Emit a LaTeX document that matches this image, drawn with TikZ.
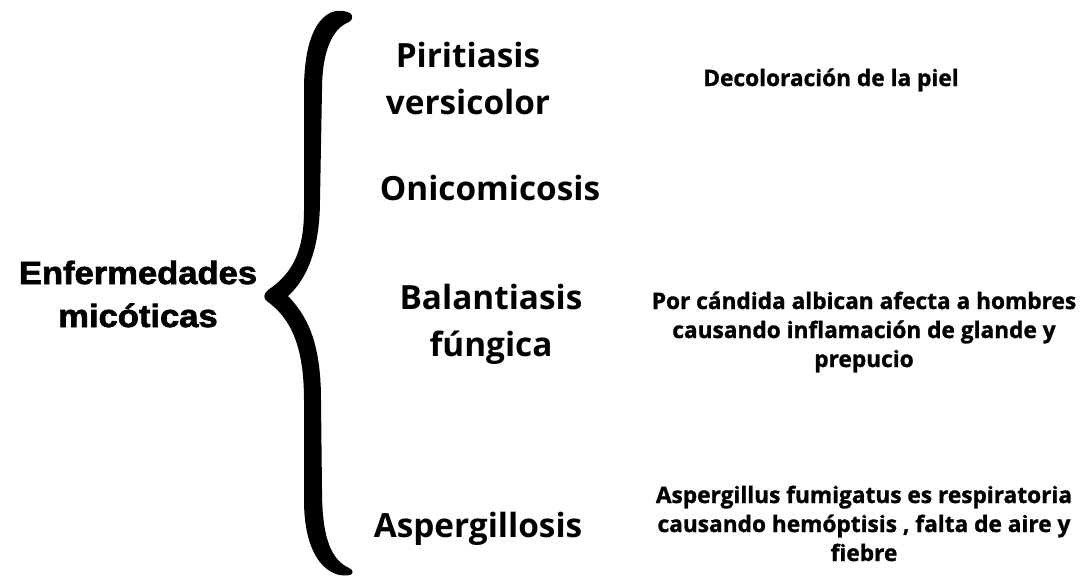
\documentclass[tikz,border=0pt]{standalone}
\usepackage{fontspec}
\setmainfont{Open Sans}
\newfontfamily\headfont[FakeStretch=1.08,FakeBold=2.2]{Liberation Sans}
\newfontfamily\descfont[FakeBold=1.2]{Open Sans}
\begin{document}
\begin{tikzpicture}[x=0.75pt,y=-0.75pt,
  headtxt/.style={anchor=base,align=center,inner sep=0pt,font=\headfont\bfseries\fontsize{24}{32.25}\selectfont},
  itemtxt/.style={anchor=base,align=center,inner sep=0pt,font=\bfseries\fontsize{25}{35.25}\selectfont},
  desctxt/.style={anchor=base,align=center,inner sep=0pt,font=\descfont\bfseries\fontsize{17}{21.75}\selectfont}]
\path[use as bounding box,fill=white] (0,0) rectangle (1081,578);
% brace
\fill[black] (350,13) .. controls (330,4) and (304,20) .. (304,90)
  -- (304,210) .. controls (304,255) and (290,275) .. (268,290)
  .. controls (263,294) and (263,299) .. (268,302)
  .. controls (290,318) and (304,345) .. (304,400)
  -- (304,500) .. controls (304,560) and (330,579) .. (350,575)
  .. controls (354,574) and (353,569) .. (349,568)
  .. controls (332,560) and (322,540) .. (322,490)
  -- (321,400) .. controls (321,340) and (306,315) .. (288,296)
  .. controls (306,280) and (320,250) .. (320,200)
  -- (322,90) .. controls (322,50) and (333,28) .. (349,22)
  .. controls (353,20) and (353,15) .. (350,13) -- cycle;
\node[headtxt] (root) at (138,327) {Enfermedades\\micóticas};
\node[itemtxt] (pit) at (468,114) {Piritiasis\\versicolor};
\node[itemtxt] (oni) at (490,200) {Onicomicosis};
\node[itemtxt] (bal) at (491,356) {Balantiasis\\fúngica};
\node[itemtxt] (asp) at (478,537) {Aspergillosis};
\node[desctxt] (dpit) at (831,86) {Decoloración de la piel};
\node[desctxt] (dbal) at (864,367) {Por cándida albican afecta a hombres\\causando inflamación de glande y\\prepucio};
\node[desctxt] (dasp) at (864,561) {Aspergillus fumigatus es respiratoria\\causando hemóptisis , falta de aire y\\fiebre};
\end{tikzpicture}
\end{document}
